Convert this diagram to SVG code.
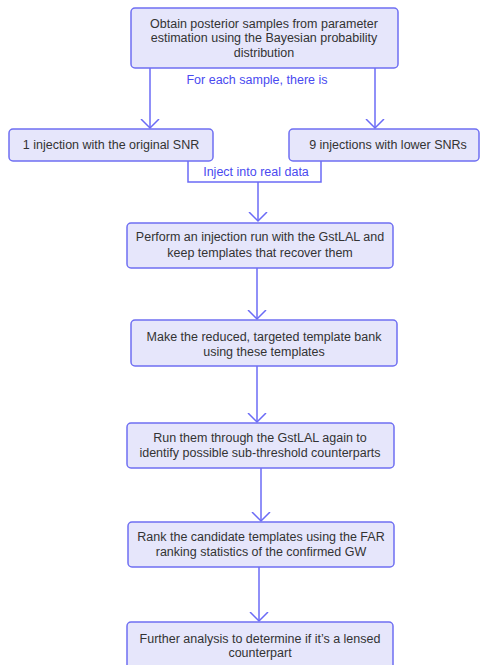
<svg xmlns="http://www.w3.org/2000/svg" width="480" height="665" viewBox="0 0 480 665">
<defs>
<marker id="arr" markerWidth="20" markerHeight="20" refX="9" refY="10" orient="auto" markerUnits="userSpaceOnUse" viewBox="0 0 20 20">
<path d="M0,1 L9,10 L0,19" fill="none" stroke="#6b6bf6" stroke-width="1.5"/>
</marker>
</defs>
<style>
.box{fill:#e6e6fb;stroke:#6f6ff2;stroke-width:1.5}
.t{font-family:"Liberation Sans",Arial,sans-serif;font-size:12.5px;fill:#333;text-anchor:middle}
.lbl{font-family:"Liberation Sans",Arial,sans-serif;font-size:12.5px;fill:#4a4af0;text-anchor:middle}
.c{fill:none;stroke:#6b6bf6;stroke-width:1.5}
</style>
<rect width="480" height="665" fill="#fff"/>
<g id="connectors">
<path class="c" d="M150,68 V128" marker-end="url(#arr)"/>
<path class="c" d="M375,68 V128" marker-end="url(#arr)"/>
<path class="c" d="M188,161 V182 H321 V161"/>
<path class="c" d="M258,182 V221" marker-end="url(#arr)"/>
<path class="c" d="M257,268 V319" marker-end="url(#arr)"/>
<path class="c" d="M257,366 V422" marker-end="url(#arr)"/>
<path class="c" d="M261,468 V521" marker-end="url(#arr)"/>
<path class="c" d="M259,567 V621" marker-end="url(#arr)"/>
<text class="lbl" x="257" y="84">For each sample, there is</text>
<text class="lbl" x="256" y="176">Inject into real data</text>
</g>
<g id="n1">
<rect class="box" x="131" y="8" width="267" height="60" rx="4"/>
<text class="t" x="264" y="28">Obtain posterior samples from parameter</text>
<text class="t" x="264" y="42">estimation using the Bayesian probability</text>
<text class="t" x="264" y="57">distribution</text>
</g>
<g id="n2">
<rect class="box" x="9" y="129" width="204" height="32" rx="4"/>
<text class="t" x="111" y="149">1 injection with the original SNR</text>
</g>
<g id="n3">
<rect class="box" x="289" y="129" width="190" height="32" rx="4"/>
<text class="t" x="388" y="149">9 injections with lower SNRs</text>
</g>
<g id="n4">
<rect class="box" x="127" y="223" width="266" height="45" rx="4"/>
<text class="t" x="260" y="241">Perform an injection run with the GstLAL and</text>
<text class="t" x="260" y="257">keep templates that recover them</text>
</g>
<g id="n5">
<rect class="box" x="131" y="320" width="266" height="46" rx="4"/>
<text class="t" x="264" y="341">Make the reduced, targeted template bank</text>
<text class="t" x="264" y="356">using these templates</text>
</g>
<g id="n6">
<rect class="box" x="127" y="423" width="267" height="45" rx="4"/>
<text class="t" x="260" y="442">Run them through the GstLAL again to</text>
<text class="t" x="260" y="457">identify possible sub-threshold counterparts</text>
</g>
<g id="n7">
<rect class="box" x="128" y="522" width="266" height="45" rx="4"/>
<text class="t" x="261" y="541">Rank the candidate templates using the FAR</text>
<text class="t" x="261" y="556">ranking statistics of the confirmed GW</text>
</g>
<g id="n8">
<rect class="box" x="127" y="622" width="266" height="50" rx="4"/>
<text class="t" x="260" y="643">Further analysis to determine if it’s a lensed</text>
<text class="t" x="260" y="657">counterpart</text>
</g>
</svg>
